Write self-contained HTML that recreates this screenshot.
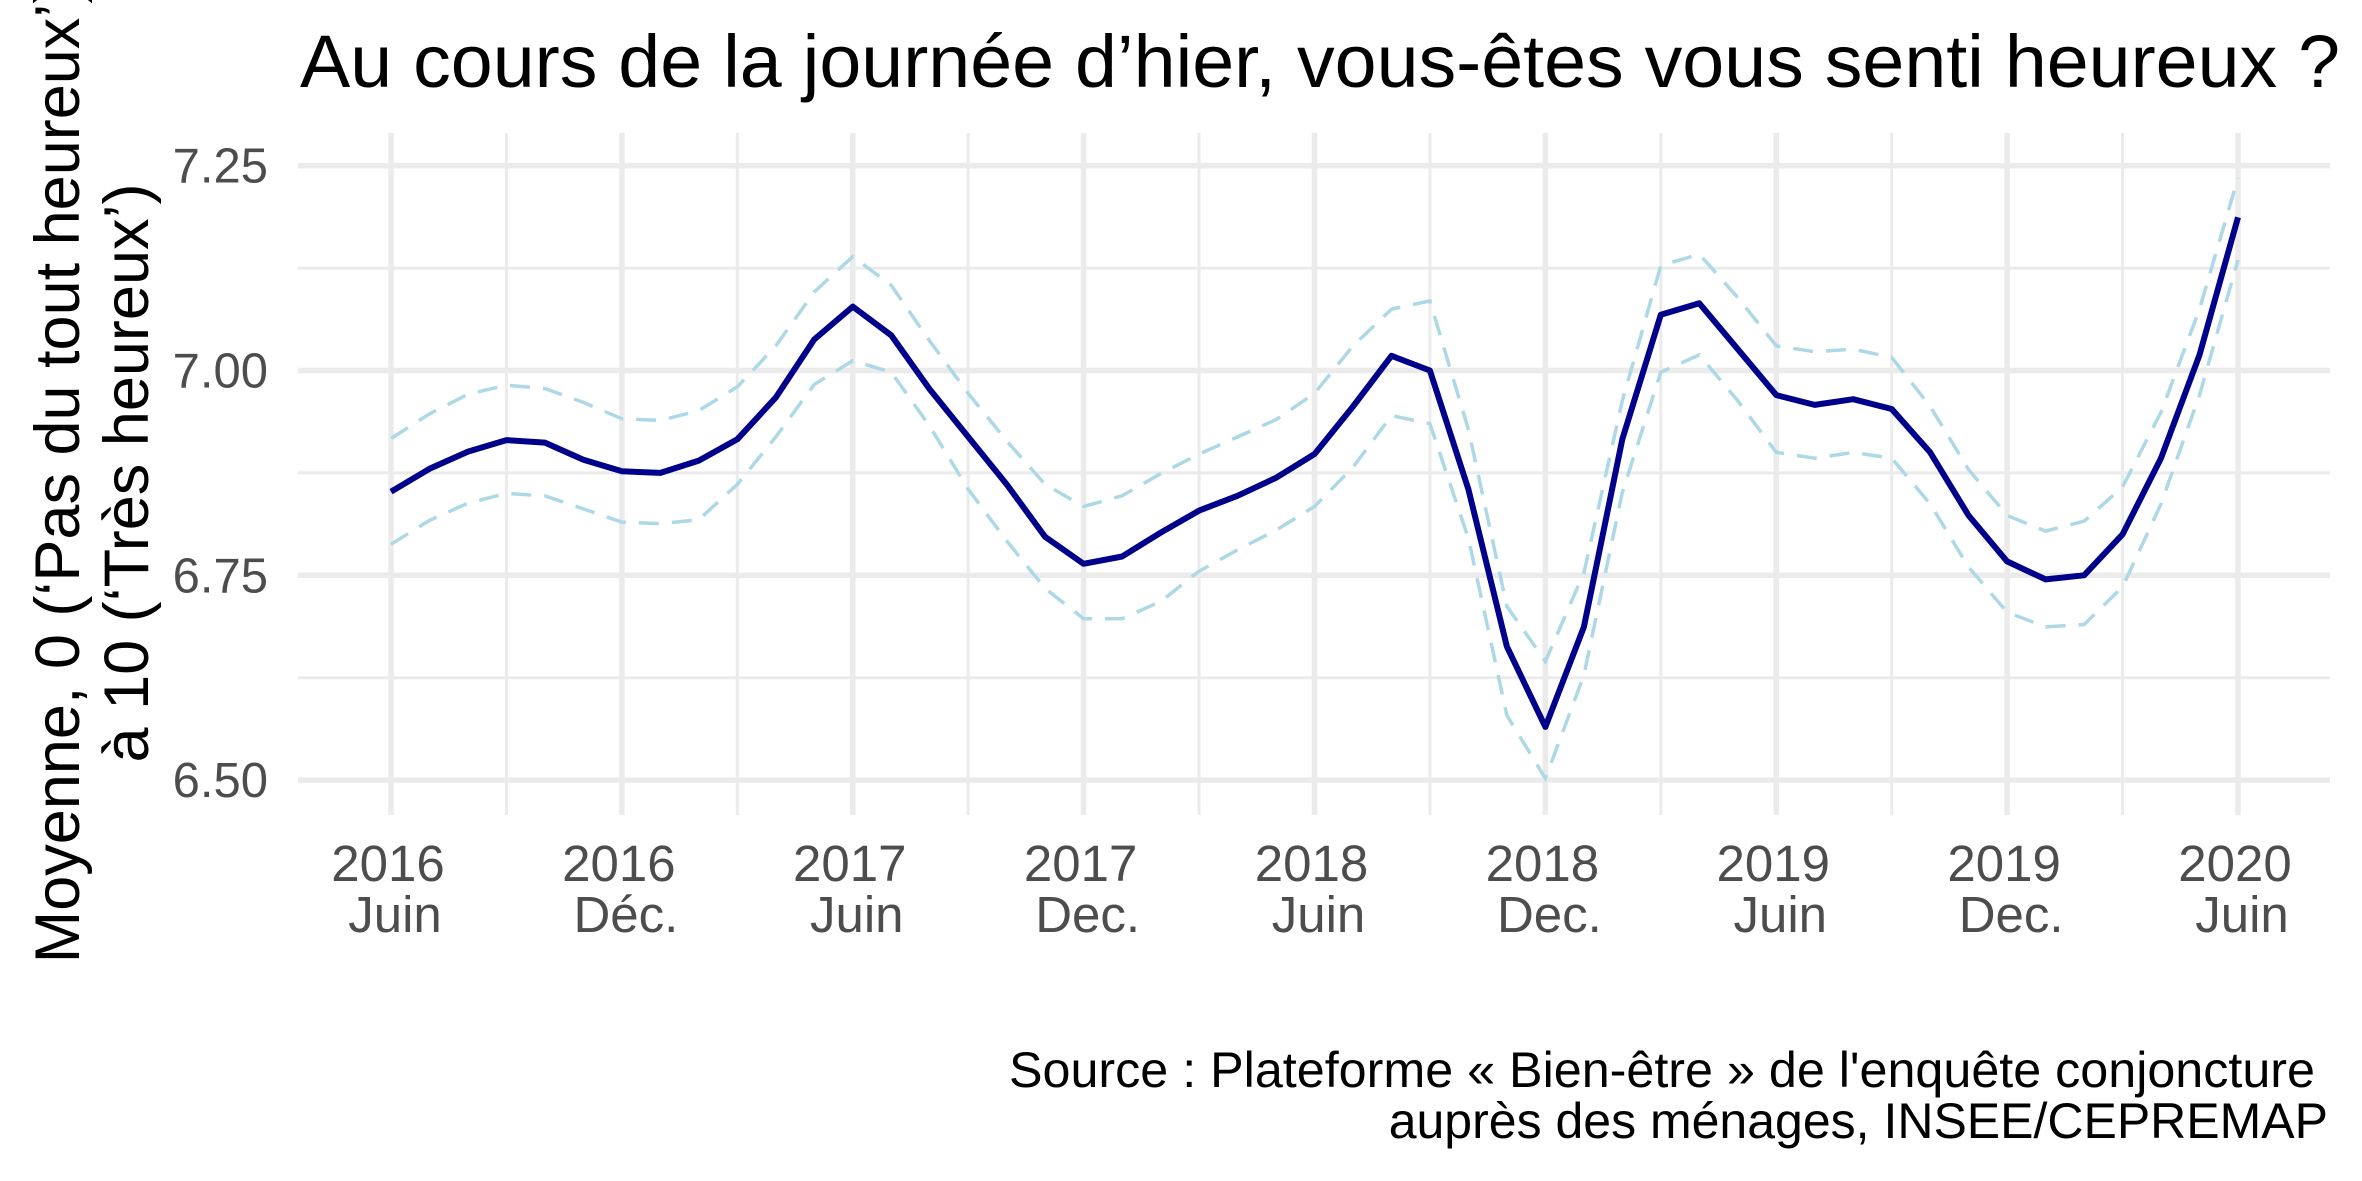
<!DOCTYPE html>
<html><head><meta charset="utf-8"><style>
html,body{margin:0;padding:0;background:#fff;}
svg{display:block;font-family:"Liberation Sans",Arial,sans-serif;}
</style></head><body>
<svg id="chart" width="2362" height="1181" viewBox="0 0 2362 1181" xmlns="http://www.w3.org/2000/svg">
<rect width="2362" height="1181" fill="#fff"/>
<text x="300" y="87" font-size="74" fill="#000" textLength="2040" lengthAdjust="spacingAndGlyphs">Au cours de la journée d’hier, vous-êtes vous senti heureux ?</text>
<g id="grid"></g>
<g id="yticks"></g>
<g id="xticks"></g>
<g id="series"></g>
<g font-size="63" fill="#000" text-anchor="middle">
<text transform="translate(79,473) rotate(-90)">Moyenne, 0 (‘Pas du tout heureux’)</text>
<text transform="translate(148,473) rotate(-90)">à 10 (‘Très heureux’)</text>
</g>
<g font-size="50" fill="#000" text-anchor="end">
<text x="2315" y="1087" textLength="1306" lengthAdjust="spacingAndGlyphs">Source : Plateforme « Bien-être » de l'enquête conjoncture</text>
<text x="2328" y="1138">auprès des ménages, INSEE/CEPREMAP</text>
</g>
</svg>
<script>
const yTicks = [7.25, 7.00, 6.75, 6.50];
const yTickLabels = ["7.25", "7.00", "6.75", "6.50"];
const xTickYears = ["2016","2016","2017","2017","2018","2018","2019","2019","2020"];
const xTickMonths = ["Juin","Déc.","Juin","Dec.","Juin","Dec.","Juin","Dec.","Juin"];
const meanValues = [6.852,6.880,6.901,6.915,6.912,6.891,6.877,6.875,6.890,6.916,6.967,7.038,7.078,7.043,6.977,6.919,6.861,6.797,6.764,6.773,6.802,6.829,6.847,6.869,6.898,6.956,7.018,7.000,6.855,6.663,6.565,6.687,6.916,7.068,7.082,7.026,6.970,6.958,6.965,6.953,6.900,6.823,6.767,6.745,6.750,6.800,6.893,7.019,7.187];
const upperValues = [6.917,6.947,6.971,6.982,6.978,6.961,6.941,6.939,6.951,6.980,7.030,7.096,7.139,7.104,7.036,6.972,6.914,6.861,6.834,6.847,6.874,6.898,6.919,6.940,6.972,7.030,7.075,7.085,6.928,6.712,6.645,6.753,6.963,7.128,7.142,7.089,7.030,7.023,7.026,7.016,6.956,6.879,6.823,6.804,6.816,6.858,6.949,7.075,7.235];
const lowerValues = [6.788,6.817,6.838,6.850,6.847,6.831,6.815,6.813,6.818,6.861,6.919,6.983,7.012,6.998,6.932,6.855,6.792,6.734,6.697,6.697,6.718,6.755,6.781,6.805,6.834,6.882,6.945,6.935,6.795,6.579,6.502,6.628,6.851,6.998,7.019,6.963,6.900,6.893,6.900,6.893,6.837,6.760,6.705,6.687,6.690,6.736,6.837,6.970,7.135];

const NS = "http://www.w3.org/2000/svg";
const X0 = 391, X1 = 2238, PL = 298, PR = 2330, PT = 133, PB = 815;
const nMonths = 48;
function xScale(i){ return X0 + i * (X1 - X0) / nMonths; }
function yScale(v){ return 165.7 + (7.25 - v) * 819.2; }
function mk(tag, attrs, parent){ const e = document.createElementNS(NS, tag); for (const k in attrs) e.setAttribute(k, attrs[k]); parent.appendChild(e); return e; }

const grid = document.getElementById('grid');
for (let k = 0; k < yTicks.length - 1; k++) {
  const v = (yTicks[k] + yTicks[k+1]) / 2;
  const l = mk('line', {x1:PL, x2:PR, y1:yScale(v), y2:yScale(v), stroke:'#ebebeb', 'stroke-width':3}, grid);
  
  
}
for (let k = 0; k < xTickYears.length - 1; k++) {
  const x = xScale(k * 6 + 3);
  const l = mk('line', {x1:x, x2:x, y1:PT, y2:PB, stroke:'#ebebeb', 'stroke-width':3}, grid);
  
  
}
const yt = document.getElementById('yticks');
yTicks.forEach((v, k) => {
  const l = mk('line', {x1:PL, x2:PR, y1:yScale(v), y2:yScale(v), stroke:'#ebebeb', 'stroke-width':5.5}, grid);
  
  
  const t = mk('text', {x:268, y:yScale(v) + 17, 'font-size':49, fill:'#4d4d4d', 'text-anchor':'end'}, yt);
  t.textContent = yTickLabels[k];
  
  
});
const xt = document.getElementById('xticks');
xTickYears.forEach((yr, k) => {
  const x = xScale(k * 6);
  const l = mk('line', {x1:x, x2:x, y1:PT, y2:PB, stroke:'#ebebeb', 'stroke-width':5.5}, grid);
  
  
  const t = mk('text', {x:x - 3, y:881, 'font-size':51, fill:'#4d4d4d', 'text-anchor':'middle'}, xt);
  t.textContent = yr;
  
  
  const t2 = mk('text', {x:x + 4, y:932, 'font-size':51, fill:'#4d4d4d', 'text-anchor':'middle'}, xt);
  t2.textContent = xTickMonths[k];
  
  
});
const series = document.getElementById('series');
function pts(arr){ return arr.map((v, i) => xScale(i).toFixed(1) + ',' + yScale(v).toFixed(1)).join(' '); }
const up = mk('polyline', {points:pts(upperValues), fill:'none', stroke:'#add8e6', 'stroke-width':3.5, 'stroke-dasharray':'20 13'}, series);


const lo = mk('polyline', {points:pts(lowerValues), fill:'none', stroke:'#add8e6', 'stroke-width':3.5, 'stroke-dasharray':'20 13'}, series);


const mn = mk('polyline', {points:pts(meanValues), fill:'none', stroke:'#00008b', 'stroke-width':6, 'stroke-linejoin':'round'}, series);


</script>
</body></html>
